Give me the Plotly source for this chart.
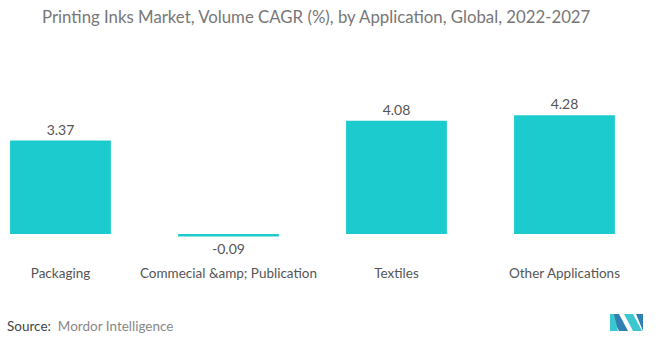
import plotly.graph_objects as go

categories = ["Packaging", "Commecial &amp;amp; Publication", "Textiles", "Other Applications"]
values = [3.37, -0.09, 4.08, 4.28]
labels = ["3.37", "-0.09", "4.08", "4.28"]

BAR = "#1CCBCE"
FONT = "Lato, 'Open Sans', sans-serif"

fig = go.Figure(go.Bar(
    x=list(range(len(categories))), y=values,
    text=labels, textposition="outside", cliponaxis=False,
    textfont=dict(size=14, color="#555555", family=FONT),
    marker=dict(color=BAR, line=dict(width=0)),
    width=0.6,
))

fig.update_layout(
    width=672, height=352,
    margin=dict(l=0, r=0, t=60, b=94),
    paper_bgcolor="white", plot_bgcolor="white",
    showlegend=False,
    font=dict(family=FONT, color="#555555"),
    title=dict(text="Printing Inks Market, Volume CAGR (%), by Application, Global, 2022-2027",
               x=0.0625, xanchor="left", y=0.952, yanchor="middle",
               font=dict(size=16.8, color="#777777", family=FONT)),
    xaxis=dict(range=[-0.36, 3.64], tickmode="array", tickvals=list(range(len(categories))),
               ticktext=categories, showgrid=False, zeroline=False, showline=False,
               ticks="", ticklabelstandoff=5,
               tickfont=dict(size=13.5, color="#555555", family=FONT)),
    yaxis=dict(range=[-0.86, 6.27], visible=False, showgrid=False, zeroline=False),
    bargap=0.4,
)

fig.add_annotation(xref="paper", yref="paper", x=0.007, y=-0.343, xanchor="left", yanchor="middle",
                   showarrow=False,
                   text="<span style='color:#444444'>Source:</span>  <span style='color:#888888'>Mordor Intelligence</span>",
                   font=dict(size=13.5, family=FONT))

# logo (pixel-ish positions converted to paper coords)
def px(x):
    return x / 672

def py(y):
    return (258 - y) / 198

b, t = py(331), py(314)
fig.add_shape(type="path", xref="paper", yref="paper", layer="above",
              path=f"M {px(610)} {t} L {px(619)} {t} L {px(628)} {b} L {px(619)} {b} Z",
              fillcolor="#2F7FB0", line=dict(width=0))
fig.add_shape(type="path", xref="paper", yref="paper", layer="above",
              path=f"M {px(610)} {t} L {px(614)} {t} L {px(618)} {b} L {px(610)} {b} Z",
              fillcolor="#3CC6CF", line=dict(width=0))
fig.add_shape(type="path", xref="paper", yref="paper", layer="above",
              path=f"M {px(624)} {t} L {px(633)} {t} L {px(642)} {b} L {px(633)} {b} Z",
              fillcolor="#3CC6CF", line=dict(width=0))
fig.add_shape(type="path", xref="paper", yref="paper", layer="above",
              path=f"M {px(636)} {t} L {px(643)} {t} L {px(643)} {b} Z",
              fillcolor="#2F7FB0", line=dict(width=0))

fig.write_html("out.html")
